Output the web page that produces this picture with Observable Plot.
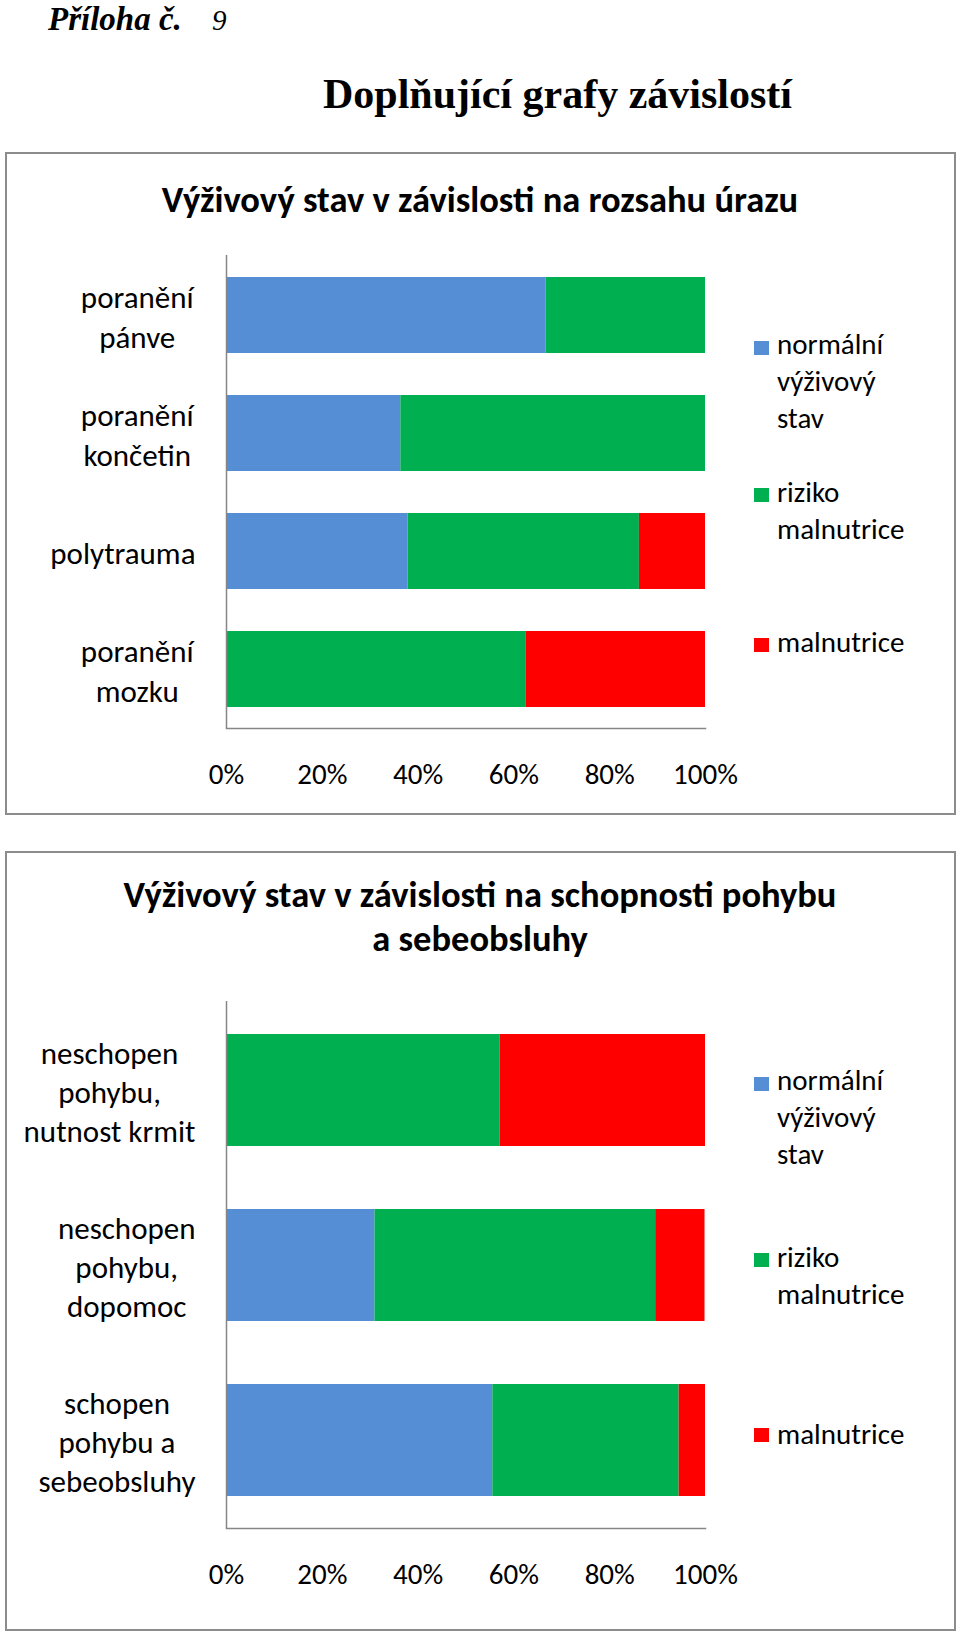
<!DOCTYPE html>
<html><head><meta charset="utf-8">
<script src="https://cdn.jsdelivr.net/npm/d3@7"></script>
<script src="https://cdn.jsdelivr.net/npm/@observablehq/plot@0.6"></script>
<style>
html,body{margin:0;padding:0;background:#fff;overflow:hidden}
#page{position:relative;width:960px;height:1636px;background:#fff}
.chart{position:absolute;left:0}
#overlay{position:absolute;left:0;top:0;pointer-events:none}
</style></head><body><div id="page"></div>
<script>
// ---- data ----
const seriesNames = ["normální výživový stav", "riziko malnutrice", "malnutrice"];
const legendLabels = ["normální\nvýživový\nstav", "riziko\nmalnutrice", "malnutrice"];
const seriesColors = ["#558ED5", "#00B050", "#FF0000"];
const xTicks = [0, 20, 40, 60, 80, 100];

const title1 = "Výživový stav v závislosti na rozsahu úrazu";
const categories1 = ["poranění\npánve", "poranění\nkončetin", "polytrauma", "poranění\nmozku"];
const normal1 = [66.7, 36.4, 37.9, 0];
const risk1   = [33.3, 63.6, 48.3, 62.5];
const malnut1 = [0, 0, 13.8, 37.5];

const title2 = ["Výživový stav v závislosti na schopnosti pohybu", "a sebeobsluhy"];
const categories2 = ["neschopen\npohybu,\nnutnost krmit", "neschopen\npohybu,\ndopomoc", "schopen\npohybu a\nsebeobsluhy"];
const normal2 = [0, 31.0, 55.6];
const risk2   = [57.1, 58.6, 38.9];
const malnut2 = [42.9, 10.3, 5.5];

// ---- style ----
const FONT = "Carlito, Calibri, Lato, sans-serif";
const SERIF = "'Liberation Serif', 'Times New Roman', serif";
const AXIS = "#868686";
const page = document.getElementById("page");

function makeChart(cats, series, {top, height, marginTop, marginBottom}) {
  const rows = [];
  cats.forEach((c, i) => series.forEach((vals, j) =>
    rows.push({category: c, series: seriesNames[j], value: vals[i]})));
  const svg = Plot.plot({
    width: 960, height, marginTop, marginBottom, marginLeft: 226, marginRight: 255,
    style: {background: "transparent", fontFamily: FONT, color: "#000"},
    x: {domain: [0, 100]},
    y: {domain: cats, paddingInner: 0.36, paddingOuter: 0.18},
    color: {domain: seriesNames, range: seriesColors},
    marks: [
      Plot.barX(rows, Plot.stackX({x: "value", y: "category", fill: "series"})),
      Plot.ruleX([0], {stroke: AXIS, strokeWidth: 1.5}),
      Plot.frame({anchor: "bottom", stroke: AXIS, strokeWidth: 1.5}),
      Plot.axisX({ticks: xTicks, tickFormat: d => d + "%", tickSize: 0, tickPadding: 35, fontSize: 29, label: null}),
      Plot.axisY({tickSize: 0, tickPadding: 31, textAnchor: "middle", lineHeight: 1.26, fontSize: 31, label: null})
    ]
  });
  svg.classList.add("chart");
  svg.style.top = top + "px";
  page.appendChild(svg);
  // right-align the (centred) multi-line category blocks against the axis
  svg.querySelectorAll('g[aria-label="y-axis tick label"] text').forEach(t => {
    const bb = t.getBBox();
    const shift = -(bb.x + bb.width);
    t.setAttribute("transform", (t.getAttribute("transform") || "") + ` translate(${shift},0)`);
  });
  return svg;
}

makeChart(categories1, [normal1, risk1, malnut1], {top: 153, height: 661, marginTop: 102, marginBottom: 86});
makeChart(categories2, [normal2, risk2, malnut2], {top: 852, height: 778, marginTop: 149, marginBottom: 102});

// ---- overlay: page headings, boxes, titles, legends ----
const ov = d3.select(page).append("svg").attr("id", "overlay")
  .attr("width", 960).attr("height", 1636);

const h = ov.append("text").attr("x", 48).attr("y", 30)
  .attr("font-family", SERIF).attr("font-style", "italic");
h.append("tspan").attr("font-weight", "bold").attr("font-size", 33).text("Příloha č.");
h.append("tspan").attr("x", 212).attr("font-size", 29).text("9");

ov.append("text").attr("x", 323).attr("y", 108)
  .attr("font-family", SERIF).attr("font-weight", "bold").attr("font-size", 42)
  .text("Doplňující grafy závislostí");

[[153, 814], [852, 1630]].forEach(([y0, y1]) => {
  ov.append("rect").attr("x", 6).attr("y", y0).attr("width", 949).attr("height", y1 - y0)
    .attr("fill", "none").attr("stroke", "#8c8c8c").attr("stroke-width", 2);
});

ov.append("text").attr("x", 480).attr("y", 212).attr("text-anchor", "middle")
  .attr("font-family", FONT).attr("font-weight", "bold").attr("font-size", 36.5)
  .text(title1);
title2.forEach((line, i) => {
  ov.append("text").attr("x", 480).attr("y", 907 + i * 44).attr("text-anchor", "middle")
    .attr("font-family", FONT).attr("font-weight", "bold").attr("font-size", 36.5)
    .text(line);
});

function legend(squareTops, baselines) {
  legendLabels.forEach((lab, i) => {
    ov.append("rect").attr("x", 754).attr("y", squareTops[i]).attr("width", 15).attr("height", 14)
      .attr("fill", seriesColors[i]);
    const t = ov.append("text").attr("font-family", FONT).attr("font-size", 29);
    lab.split("\n").forEach((s, k) => {
      t.append("tspan").attr("x", 777).attr("y", baselines[i] + k * 37).text(s);
    });
  });
}
legend([341, 488, 638], [354, 502, 652]);
legend([1077, 1253, 1428], [1090, 1267, 1444]);
</script></body></html>
